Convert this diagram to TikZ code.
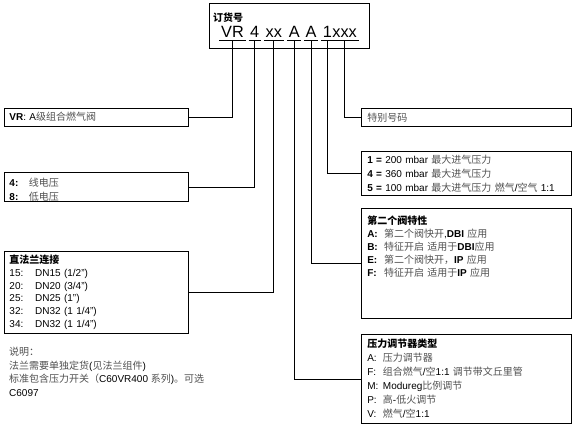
\documentclass[tikz,border=0pt]{standalone}
\usepackage{fontspec}
\setmainfont{Liberation Sans}
\newfontfamily\cjk{Noto Sans CJK SC}
\usepackage{xcolor}
\usepackage{tikz}
\usetikzlibrary{positioning,calc}
\definecolor{cjkgray}{HTML}{505050}
\newcommand{\zh}[1]{{\cjk\color{cjkgray}#1}}
\newcommand{\zhb}[1]{{\cjk\bfseries #1}}
\newcommand{\tab}[2]{\makebox[#1][l]{#2}}
\tikzset{
  legbox/.style={
    draw=black,line width=.9pt,anchor=north west,
    inner xsep=4.6pt,inner ysep=3pt,align=left,
    text width=174.4pt,font=\fontsize{10}{13}\selectfont
  },
  optbox/.style={
    legbox,inner xsep=6.3pt,text width=197.9pt
  },
  codepart/.style={
    anchor=base,inner xsep=1.5pt,inner ysep=2.7pt,text depth=0pt,
    font=\fontsize{16.3}{16}\selectfont
  },
  link/.style={draw=black,line width=.9pt}
}

\begin{document}
\begin{tikzpicture}[x=1pt,y=-1pt]
\useasboundingbox (0,0) rectangle (572,425);

% order number
\node[draw,line width=.9pt,anchor=north west,minimum width=160pt,minimum height=45pt] (ordbox) at (209,3) {};
\node[anchor=west,inner sep=0pt,font=\fontsize{10}{10}\selectfont] (ordtitle) at (213,17.5) {\zhb{订货号}};
\node[codepart] (vr) at (232.5,37.7) {VR};
\node[codepart,base right=3pt of vr] (volt) {4};
\node[codepart,base right=3pt of volt] (flange) {xx};
\node[codepart,base right=3.5pt of flange] (regtype) {A};
\node[codepart,base right=2.5pt of regtype] (valve2) {A};
\node[codepart,base right=3pt of valve2] (pmax) {1};
\node[codepart,base right=-3pt of pmax] (special) {xxx};

\foreach \n in {vr,volt,flange,regtype,valve2}
  \draw[link] (\n.south west) -- (\n.south east);
\draw[link] (pmax.south west) -- (special.south east);

% left side
\node[legbox,minimum height=17.9pt] (vrbox) at (4.4,107.7)
{\textbf{VR}: A\zh{级组合燃气阀}};
\node[legbox,inner ysep=0pt,minimum height=29.3pt,font=\fontsize{10}{14.3}\selectfont] (voltbox) at (4.4,172)
{\rule{0pt}{13.6pt}\tab{19.5pt}{\textbf{4:}}\zh{线电压}\\
 \tab{19.5pt}{\textbf{8:}}\zh{低电压}};
\node[legbox,minimum height=81.9pt,font=\fontsize{10}{12.8}\selectfont] (flangebox) at (4.4,250.8)
{\zhb{直法兰连接}\\
 \tab{25.7pt}{15:}DN15 (1/2")\\
 \tab{25.7pt}{20:}DN20 (3/4")\\
 \tab{25.7pt}{25:}DN25 (1")\\
 \tab{25.7pt}{32:}DN32 (1 1/4")\\
 \tab{25.7pt}{34:}DN32 (1 1/4")};

\node[anchor=north west,inner sep=0pt,align=left,font=\fontsize{10}{13.6}\selectfont] (notes) at (9,347)
{\zh{说明：}\\
 \zh{法兰需要单独定货}(\zh{见法兰组件})\\
 \zh{标准包含压力开关（}C60VR400 \zh{系列})\zh{。可选}\\
 C6097};

% right side
\node[optbox,minimum height=17.2pt] (specialbox) at (360.5,108.4)
{\zh{特别号码}};
\node[optbox,minimum height=44.5pt,font=\fontsize{10}{13.8}\selectfont] (pmaxbox) at (360.5,150.8)
{\textbf{1 =} 200 mbar \zh{最大进气压力}\\
 \textbf{4 =} 360 mbar \zh{最大进气压力}\\
 \textbf{5 =} 100 mbar \zh{最大进气压力 燃气}/\zh{空气} 1:1};
\node[optbox,inner ysep=7.3pt] (valvebox) at (360.5,207.7)
{\zhb{第二个阀特性}\\
 \tab{16.8pt}{\textbf{A:}}\zh{第二个阀快开},\textbf{DBI} \zh{应用}\\
 \tab{16.8pt}{\textbf{B:}}\zh{特征开启 适用于}\textbf{DBI}\zh{应用}\\
 \tab{16.8pt}{\textbf{E:}}\zh{第二个阀快开，}\textbf{IP} \zh{应用}\\
 \tab{16.8pt}{\textbf{F:}}\zh{特征开启 适用于}\textbf{IP} \zh{应用}\rule[-35pt]{0pt}{35pt}};
\node[optbox,minimum height=89pt,font=\fontsize{10}{14}\selectfont] (regbox) at (360.5,334)
{\zhb{压力调节器类型}\\
 \tab{15.7pt}{A:}\zh{压力调节器}\\
 \tab{15.7pt}{F:}\zh{组合燃气}/\zh{空}1:1 \zh{调节带文丘里管}\\
 \tab{15.7pt}{M:}Modureg\zh{比例调节}\\
 \tab{15.7pt}{P:}\zh{高}-\zh{低火调节}\\
 \tab{15.7pt}{V:}\zh{燃气}/\zh{空}1:1};

% connectors
\draw[link] (vr.south) |- (vrbox.east);
\draw[link] (volt.south) |- (voltbox.east);
\draw[link] (flange.south) |- (flangebox.east);
\draw[link] (regtype.south) |- (regbox.west);
\draw[link] (valve2.south) |- (valvebox.west);
\draw[link] (pmax.south) |- (pmaxbox.west);
\draw[link] (special.south) |- (specialbox.west);
\end{tikzpicture}
\end{document}
